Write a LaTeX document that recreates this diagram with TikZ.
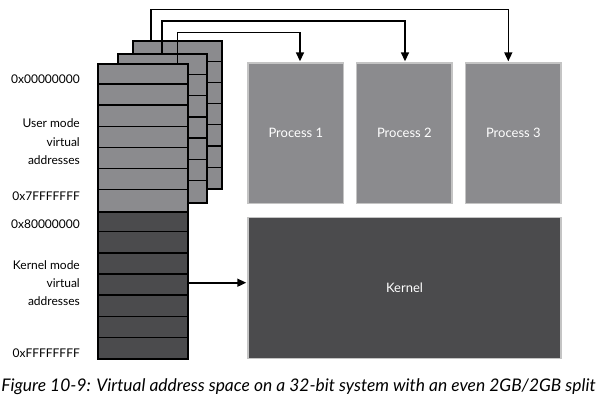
\documentclass[tikz,border=0pt]{standalone}
\usepackage{fontspec}
\setmainfont{Lato}
\usetikzlibrary{arrows.meta,positioning}

\definecolor{usergray}{HTML}{8B8B8E}
\definecolor{kerngray}{HTML}{4B4B4D}
\definecolor{edgegray}{HTML}{C4C4C4}

\tikzset{
  page/.style={draw=black,line width=1.9pt,fill=usergray,inner sep=0pt,
    minimum width=89.4pt,minimum height=148.4pt,anchor=north west},
  row/.style={line width=1.3pt},
  area/.style={draw=edgegray,line width=1.5pt,inner sep=0pt,text=white,font=\fontsize{13}{15}\selectfont},
  addr/.style={anchor=east,align=right,inner sep=0pt,font=\fontsize{12}{18.3}\selectfont},
  link/.style={-{Triangle[length=9pt,width=8pt]},line width=1.6pt,shorten >=1pt},
}

\begin{document}
\begin{tikzpicture}[x=1pt,y=-1pt]
    \useasboundingbox (0,0) rectangle (597,402);
    % page tables of the three processes
    \node[page] (back) at (131.7,40) {};
    \foreach \i in {1,...,6}
      \draw[row] ([yshift=-\i*21.2pt]back.north west) -- ([yshift=-\i*21.2pt]back.north east);
    \node[page] (mid) at (116.7,53.3) {};
    \foreach \i in {1,...,6}
      \draw[row] ([yshift=-\i*21.2pt]mid.north west) -- ([yshift=-\i*21.2pt]mid.north east);
    \node[page,minimum height=148pt] (user) at (97.3,62.7) {};
    \foreach \i in {1,...,6}
      \draw[row] ([yshift=-\i*21.15pt]user.north west) -- ([yshift=-\i*21.15pt]user.north east);
    \node[page,fill=kerngray,minimum height=147.6pt] (kern) at (97.3,210.7) {};
    \foreach \i in {1,...,6}
      \draw[row] ([yshift=-\i*21.1pt]kern.north west) -- ([yshift=-\i*21.1pt]kern.north east);

    % address labels
    \node[addr] (a0) at (80,79.3) {0x00000000};
    \node[addr] (ua) at (80,141.7) {User mode\\virtual\\addresses};
    \node[addr] (a1) at (80,196) {0x7FFFFFFF};
    \node[addr] (a2) at (80,224) {0x80000000};
    \node[addr] (ka) at (80,283.3) {Kernel mode\\virtual\\addresses};
    \node[addr] (a3) at (80,352.7) {0xFFFFFFFF};

    % physical memory
    \node[area,fill=usergray,minimum width=95.5pt,minimum height=140.5pt] (p1) at (295.8,133.3) {Process 1};
    \node[area,fill=usergray,minimum width=95.5pt,minimum height=140.5pt] (p2) at (404.3,133.3) {Process 2};
    \node[area,fill=usergray,minimum width=95.5pt,minimum height=140.5pt] (p3) at (513.3,133.3) {Process 3};
    \node[area,fill=kerngray,minimum width=313pt,minimum height=141pt] (k) at (404.5,288) {Kernel};

    \draw[link] ([xshift=19pt]back.north west) |- ([xshift=-5pt,yshift=53pt]p3.north) -- ([xshift=-5pt]p3.north);
    \draw[link] ([xshift=45pt]mid.north west) |- ([xshift=0.7pt,yshift=41.6pt]p2.north) -- ([xshift=0.7pt]p2.north);
    \draw[link] ([xshift=80pt]user.north west) |- ([xshift=4.2pt,yshift=30pt]p1.north) -- ([xshift=4.2pt]p1.north);
    \draw[link] ([yshift=-72pt]kern.north east) -- ([yshift=-72pt]kern.north east -| k.west);

    \node[font=\itshape\fontsize{17.4}{20}\selectfont,inner sep=0pt] (cap) at (298.5,386.5)
      {Figure 10-9: Virtual address space on a 32-bit system with an even 2GB/2GB split};
\end{tikzpicture}
\end{document}
